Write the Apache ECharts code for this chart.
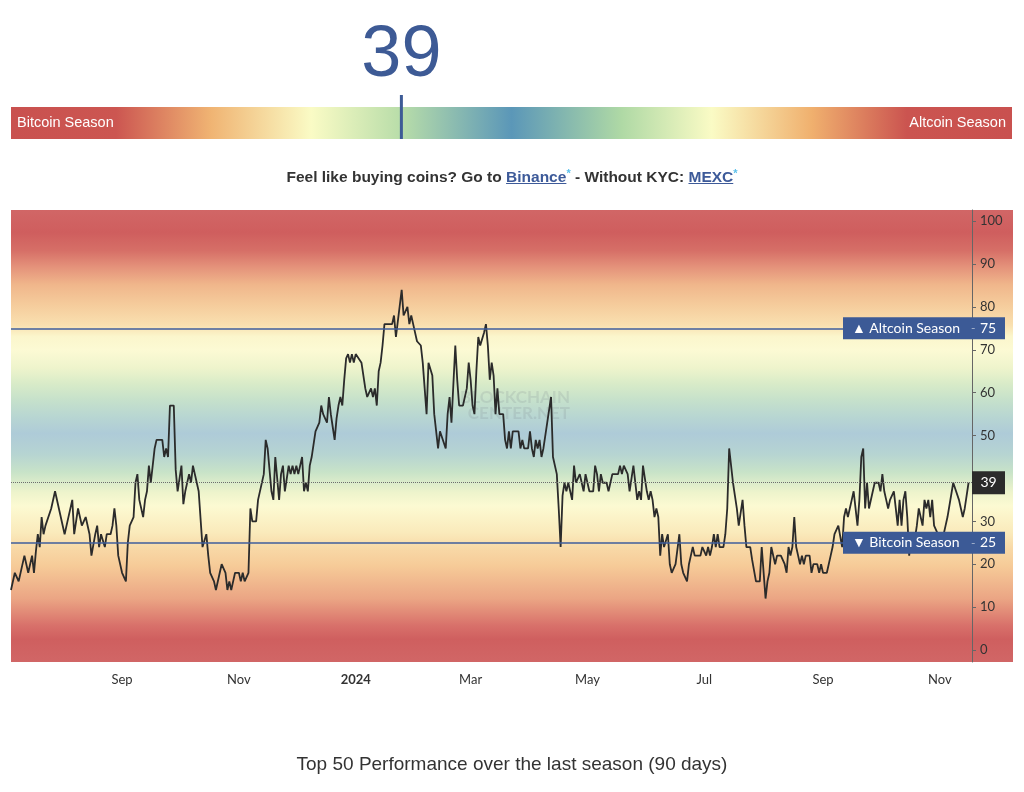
<!DOCTYPE html>
<html><head><meta charset="utf-8">
<script src="https://cdn.jsdelivr.net/npm/echarts@6/dist/echarts.min.js"></script>
<style>
html,body{margin:0;padding:0;background:#fff;}
#wrap{position:relative;width:1024px;height:792px;overflow:hidden;}
#chart{position:absolute;left:0;top:0;width:1024px;height:792px;}
#promo{position:absolute;left:0;top:167px;width:1024px;text-align:center;font:bold 15.5px "Liberation Sans",Arial,sans-serif;color:#333;line-height:20px;}
#promo a{color:#3d5a99;text-decoration:underline;}
#promo .st{color:#5bc0eb;font-size:11px;vertical-align:top;line-height:12px;}
</style></head>
<body><div id="wrap"><div id="chart"></div>
<div id="promo">Feel like buying coins? Go to <a>Binance</a><span class="st">*</span> - Without KYC: <a>MEXC</a><span class="st">*</span></div>
</div>
<script>
// ---- data ----
const data2023 = [
['2023-07-05',14],['2023-07-07',18],['2023-07-08',18],['2023-07-09',16],['2023-07-10',16],['2023-07-12',22],['2023-07-13',20],['2023-07-14',18],['2023-07-15',18],['2023-07-16',22],['2023-07-17',18],['2023-07-18',23],['2023-07-19',27],['2023-07-20',24],['2023-07-21',31],['2023-07-22',27],['2023-07-23',29],['2023-07-24',29],['2023-07-26',33],['2023-07-27',33],['2023-07-28',37],['2023-07-30',33],['2023-07-31',33],
['2023-08-02',27],['2023-08-03',29],['2023-08-04',29],['2023-08-06',35],['2023-08-07',27],['2023-08-09',33],['2023-08-10',31],['2023-08-11',29],['2023-08-13',31],['2023-08-14',31],['2023-08-15',27],['2023-08-16',22],['2023-08-17',22],['2023-08-18',27],['2023-08-19',29],['2023-08-20',24],['2023-08-21',27],['2023-08-23',24],['2023-08-24',27],['2023-08-26',27],['2023-08-27',29],['2023-08-28',33],['2023-08-29',29],['2023-08-30',22],['2023-08-31',22],
['2023-09-01',18],['2023-09-02',18],['2023-09-03',16],['2023-09-04',25],['2023-09-05',29],['2023-09-06',29],['2023-09-07',31],['2023-09-08',39],['2023-09-09',41],['2023-09-10',35],['2023-09-11',35],['2023-09-12',31],['2023-09-13',35],['2023-09-14',37],['2023-09-15',43],['2023-09-16',39],['2023-09-17',39],['2023-09-18',47],['2023-09-19',49],['2023-09-22',49],['2023-09-23',45],['2023-09-24',47],['2023-09-25',45],['2023-09-26',57],['2023-09-28',57],['2023-09-29',42],['2023-09-30',37],
['2023-10-01',37],['2023-10-02',43],['2023-10-03',34],['2023-10-04',37],['2023-10-05',37],['2023-10-06',41],['2023-10-07',39],['2023-10-08',43],['2023-10-09',43],['2023-10-10',39],['2023-10-11',37],['2023-10-13',24],['2023-10-14',24],['2023-10-15',27],['2023-10-16',22],['2023-10-17',18],['2023-10-18',18],['2023-10-19',16],['2023-10-20',14],['2023-10-22',18],['2023-10-23',20],['2023-10-24',20],['2023-10-25',18],['2023-10-26',14],['2023-10-27',16],['2023-10-28',14],['2023-10-29',16],['2023-10-30',18],['2023-10-31',18],
['2023-11-01',18],['2023-11-02',16],['2023-11-03',18],['2023-11-04',16],['2023-11-05',16],['2023-11-06',18],['2023-11-07',33],['2023-11-08',30],['2023-11-10',30],['2023-11-11',35],['2023-11-12',35],['2023-11-14',41],['2023-11-15',49],['2023-11-16',47],['2023-11-17',47],['2023-11-18',37],['2023-11-19',35],['2023-11-20',45],['2023-11-21',45],['2023-11-22',35],['2023-11-23',41],['2023-11-24',43],['2023-11-25',37],['2023-11-27',43],['2023-11-28',41],['2023-11-29',43],['2023-11-30',41],
['2023-12-01',43],['2023-12-02',41],['2023-12-03',41],['2023-12-04',45],['2023-12-05',37],['2023-12-06',39],['2023-12-07',37],['2023-12-08',43],['2023-12-09',45],['2023-12-11',51],['2023-12-12',51],['2023-12-13',53],['2023-12-14',57],['2023-12-15',55],['2023-12-16',55],['2023-12-17',53],['2023-12-18',59],['2023-12-19',55],['2023-12-20',52],['2023-12-21',49],['2023-12-22',54],['2023-12-23',57],['2023-12-24',59],['2023-12-25',57],['2023-12-26',63],['2023-12-27',68],['2023-12-28',69],['2023-12-29',67],['2023-12-30',69],['2023-12-31',67]
];
const data2024 = [
['2024-01-01',69],['2024-01-02',69],['2024-01-04',67],['2024-01-05',67],['2024-01-06',61],['2024-01-07',59],['2024-01-08',59],['2024-01-09',61],['2024-01-10',59],['2024-01-11',61],['2024-01-12',57],['2024-01-13',65],['2024-01-14',67],['2024-01-15',71],['2024-01-16',76],['2024-01-17',76],['2024-01-20',76],['2024-01-21',78],['2024-01-22',73],['2024-01-23',73],['2024-01-25',84],['2024-01-26',78],['2024-01-27',78],['2024-01-28',80],['2024-01-29',76],['2024-01-30',78],['2024-01-31',76],
['2024-02-01',76],['2024-02-02',72],['2024-02-04',71],['2024-02-05',67],['2024-02-07',55],['2024-02-08',67],['2024-02-09',67],['2024-02-10',64],['2024-02-11',55],['2024-02-13',47],['2024-02-14',51],['2024-02-15',51],['2024-02-17',47],['2024-02-18',55],['2024-02-19',59],['2024-02-20',53],['2024-02-21',53],['2024-02-22',71],['2024-02-23',63],['2024-02-24',57],['2024-02-25',57],['2024-02-26',57],['2024-02-28',61],['2024-02-29',67],
['2024-03-01',63],['2024-03-02',57],['2024-03-03',55],['2024-03-04',65],['2024-03-05',73],['2024-03-06',71],['2024-03-07',71],['2024-03-08',74],['2024-03-09',76],['2024-03-10',71],['2024-03-11',63],['2024-03-12',67],['2024-03-13',64],['2024-03-14',55],['2024-03-15',61],['2024-03-16',55],['2024-03-18',55],['2024-03-19',49],['2024-03-20',47],['2024-03-21',51],['2024-03-22',47],['2024-03-23',51],['2024-03-26',51],['2024-03-27',47],['2024-03-28',49],['2024-03-29',47],['2024-03-31',47],
['2024-04-01',51],['2024-04-02',47],['2024-04-03',45],['2024-04-04',49],['2024-04-05',47],['2024-04-06',49],['2024-04-07',45],['2024-04-08',47],['2024-04-09',47],['2024-04-10',53],['2024-04-12',59],['2024-04-13',45],['2024-04-15',41],['2024-04-16',33],['2024-04-17',24],['2024-04-18',36],['2024-04-19',39],['2024-04-20',37],['2024-04-21',39],['2024-04-22',39],['2024-04-23',35],['2024-04-24',43],['2024-04-25',39],['2024-04-26',39],['2024-04-27',41],['2024-04-28',39],['2024-04-29',37],['2024-04-30',41],
['2024-05-01',39],['2024-05-02',37],['2024-05-04',37],['2024-05-05',43],['2024-05-06',41],['2024-05-07',37],['2024-05-08',41],['2024-05-09',39],['2024-05-11',39],['2024-05-12',37],['2024-05-13',37],['2024-05-14',41],['2024-05-17',41],['2024-05-18',43],['2024-05-19',41],['2024-05-20',43],['2024-05-21',43],['2024-05-22',41],['2024-05-23',37],['2024-05-25',43],['2024-05-26',39],['2024-05-27',35],['2024-05-28',37],['2024-05-29',35],['2024-05-30',43],['2024-05-31',43],
['2024-06-01',37],['2024-06-02',35],['2024-06-03',37],['2024-06-04',35],['2024-06-05',31],['2024-06-06',33],['2024-06-07',31],['2024-06-08',22],['2024-06-09',27],['2024-06-10',24],['2024-06-11',24],['2024-06-12',27],['2024-06-13',20],['2024-06-14',18],['2024-06-15',18],['2024-06-16',20],['2024-06-17',20],['2024-06-18',27],['2024-06-19',20],['2024-06-20',18],['2024-06-21',18],['2024-06-22',16],['2024-06-23',20],['2024-06-24',22],['2024-06-25',24],['2024-06-26',22],['2024-06-29',22],['2024-06-30',24],
['2024-07-01',24],['2024-07-02',22],['2024-07-03',24],['2024-07-04',22],['2024-07-05',24],['2024-07-06',27],['2024-07-07',24],['2024-07-08',27],['2024-07-09',24],['2024-07-11',24],['2024-07-12',27],['2024-07-13',33],['2024-07-14',47],['2024-07-16',39],['2024-07-17',36],['2024-07-18',33],['2024-07-19',29],['2024-07-21',35],['2024-07-22',29],['2024-07-23',24],['2024-07-25',24],['2024-07-26',21],['2024-07-28',16],['2024-07-30',16],['2024-07-31',24],
['2024-08-02',12],['2024-08-03',16],['2024-08-04',18],['2024-08-05',24],['2024-08-06',24],['2024-08-07',20],['2024-08-08',22],['2024-08-10',22],['2024-08-12',20],['2024-08-13',18],['2024-08-14',24],['2024-08-15',22],['2024-08-16',24],['2024-08-17',31],['2024-08-18',24],['2024-08-19',22],['2024-08-20',20],['2024-08-21',22],['2024-08-22',20],['2024-08-23',22],['2024-08-25',22],['2024-08-26',18],['2024-08-27',20],['2024-08-29',20],['2024-08-30',18],['2024-08-31',20],
['2024-09-01',18],['2024-09-03',18],['2024-09-05',22],['2024-09-06',24],['2024-09-07',27],['2024-09-08',27],['2024-09-09',29],['2024-09-10',29],['2024-09-11',24],['2024-09-12',31],['2024-09-13',33],['2024-09-14',31],['2024-09-15',31],['2024-09-16',35],['2024-09-17',37],['2024-09-19',29],['2024-09-20',35],['2024-09-21',45],['2024-09-22',47],['2024-09-23',33],['2024-09-24',39],['2024-09-25',33],['2024-09-27',37],['2024-09-28',39],['2024-09-30',39],
['2024-10-01',37],['2024-10-02',41],['2024-10-03',37],['2024-10-04',35],['2024-10-05',33],['2024-10-06',35],['2024-10-08',37],['2024-10-09',33],['2024-10-10',29],['2024-10-11',35],['2024-10-12',29],['2024-10-13',35],['2024-10-14',37],['2024-10-15',31],['2024-10-16',22],['2024-10-17',26],['2024-10-19',26],['2024-10-20',29],['2024-10-21',33],['2024-10-23',29],['2024-10-24',35],['2024-10-25',33],['2024-10-26',35],['2024-10-27',31],['2024-10-28',35],['2024-10-29',29],['2024-10-30',29],['2024-10-31',27],
['2024-11-01',24],['2024-11-03',27],['2024-11-04',29],['2024-11-05',31],['2024-11-06',31],['2024-11-08',39],['2024-11-09',39],['2024-11-11',35],['2024-11-12',33],['2024-11-13',31],['2024-11-14',33],['2024-11-15',33],['2024-11-16',39]
];
const xTickDates = ['2023-09-01','2023-11-01','2024-01-01','2024-03-01','2024-05-01','2024-07-01','2024-09-01','2024-11-01'];
const monthNames = ['Jan','Feb','Mar','Apr','May','Jun','Jul','Aug','Sep','Oct','Nov','Dec'];
const yTicks = [0,10,20,30,40,50,60,70,80,90,100];
const seasonLevels = [75, 25];
const seasonTitles = ['\u25B2 Altcoin Season', '\u25BC Bitcoin Season'];
const gaugeEnds = ['Bitcoin Season', 'Altcoin Season'];
const bottomTitle = 'Top 50 Performance over the last season (90 days)';
const axisStart = '2023-07-05';
const axisSpanDays = 501.8;

// ---- build ----
const DAY = 86400000;
const ts = s => { const p = s.split('-').map(Number); return Date.UTC(p[0], p[1]-1, p[2]); };
const allData = data2023.concat(data2024);
const lineData = allData.map(d => [ts(d[0]), d[1]]);
const current = allData[allData.length-1][1];
const xMin = ts(axisStart);
const xMax = xMin + axisSpanDays * DAY;
const FONT = 'Lato, "Open Sans", sans-serif';
const SANS = '"Liberation Sans", Arial, sans-serif';

const bgGrad = new echarts.graphic.LinearGradient(0,0,0,1,[
  {offset:0,color:'#d16666'},{offset:0.05,color:'#cf5e5e'},{offset:0.09,color:'#d66f67'},
  {offset:0.125,color:'#e4917a'},{offset:0.165,color:'#f0b68b'},{offset:0.21,color:'#f5cc9c'},
  {offset:0.255,color:'#f9e0b0'},{offset:0.28,color:'#fbf6cc'},{offset:0.31,color:'#fcfad4'},
  {offset:0.35,color:'#eef4cc'},{offset:0.385,color:'#d8ebc8'},{offset:0.42,color:'#c6e1cb'},
  {offset:0.457,color:'#b8d6d2'},{offset:0.495,color:'#aecbd8'},{offset:0.54,color:'#b6d4d2'},
  {offset:0.58,color:'#c8e3c8'},{offset:0.625,color:'#eef4cc'},{offset:0.655,color:'#fcfad2'},
  {offset:0.714,color:'#faeabb'},{offset:0.75,color:'#f8d8a6'},{offset:0.787,color:'#f6cb98'},
  {offset:0.86,color:'#eba584'},{offset:0.92,color:'#d8706a'},{offset:0.95,color:'#cf5f5f'},
  {offset:1,color:'#d16666'}
]);
const gaugeGrad = new echarts.graphic.LinearGradient(0,0,1,0,[
  {offset:0,color:'#c9514f'},{offset:0.105,color:'#cc5651'},{offset:0.2,color:'#f0b473'},
  {offset:0.3,color:'#fafbc5'},{offset:0.39,color:'#b8dda9'},{offset:0.5,color:'#5b97b8'},
  {offset:0.61,color:'#afd9a5'},{offset:0.7,color:'#fafbc5'},{offset:0.8,color:'#f0b06e'},
  {offset:0.895,color:'#cb5450'},{offset:1,color:'#c9514f'}
]);

const boxRich = {
  t:{color:'#fff',fontSize:14,fontFamily:FONT,width:119,align:'left'},
  d:{color:'rgba(255,255,255,0.55)',fontSize:12,fontFamily:FONT,width:9,align:'left'},
  v:{color:'#fff',fontSize:14,fontFamily:FONT,align:'left'}
};
const seasonPoints = seasonLevels.map((lv,i) => ({
  coord:[xMax, lv], symbol:'rect', symbolSize:[162,22], symbolOffset:[-48,0],
  itemStyle:{color:'#3c5a96'},
  label:{show:true, position:'inside', formatter:'{t|'+seasonTitles[i]+'}{d|-}{v|'+lv+'}', rich:boxRich}
}));

const chart = echarts.init(document.getElementById('chart'), null, {renderer:'canvas'});
chart.setOption({
  animation:false,
  backgroundColor:'#fff',
  title:{text:bottomTitle,left:'center',top:750,textStyle:{fontSize:19,fontWeight:'normal',color:'#333',fontFamily:SANS}},
  graphic:[
    {type:'rect',z:-10,silent:true,shape:{x:11,y:210,width:1002,height:452},style:{fill:bgGrad}},
    {type:'text',z:1,silent:true,style:{x:570,y:398,text:'BLOCKCHAIN',align:'right',verticalAlign:'middle',font:'bold 17px '+FONT,fill:'rgba(110,120,130,0.16)'}},
    {type:'text',z:1,silent:true,style:{x:570,y:414,text:'CENTER.NET',align:'right',verticalAlign:'middle',font:'bold 17px '+FONT,fill:'rgba(110,120,130,0.16)'}},
    {type:'text',z:5,silent:true,style:{x:17,y:123,text:gaugeEnds[0],align:'left',verticalAlign:'middle',font:'14.5px '+SANS,fill:'#fff'}},
    {type:'text',z:5,silent:true,style:{x:1006,y:123,text:gaugeEnds[1],align:'right',verticalAlign:'middle',font:'14.5px '+SANS,fill:'#fff'}}
  ],
  grid:[
    {left:11,right:52,top:210,bottom:130},
    {left:11,right:12,top:107,height:32,show:true,backgroundColor:gaugeGrad,borderWidth:0}
  ],
  xAxis:[
    {type:'value',gridIndex:0,min:xMin,max:xMax,
     axisLine:{show:false},axisTick:{show:false},splitLine:{show:false},
     axisLabel:{customValues:xTickDates.map(ts),color:'#333',fontSize:13,fontFamily:FONT,margin:11,
       formatter:v=>{const d=new Date(v);const m=d.getUTCMonth();return m===0?'{b|'+d.getUTCFullYear()+'}':monthNames[m];},
       rich:{b:{fontWeight:'bold',fontSize:13,color:'#333',fontFamily:FONT}}}},
    {type:'value',gridIndex:1,min:0,max:100,show:false}
  ],
  yAxis:[
    {type:'value',gridIndex:0,position:'right',min:-2.8,max:102.6,
     axisLine:{show:true,lineStyle:{color:'#666',width:1}},
     axisTick:{show:true,customValues:yTicks,length:4,lineStyle:{color:'#666'}},
     axisLabel:{customValues:yTicks,color:'#333',fontSize:13,fontFamily:FONT,margin:8},
     splitLine:{show:false}},
    {type:'value',gridIndex:1,min:0,max:1,show:false}
  ],
  series:[
    {type:'line',xAxisIndex:0,yAxisIndex:0,data:lineData,showSymbol:false,z:3,
     lineStyle:{color:'#2b2b2b',width:1.8},
     markLine:{silent:true,symbol:['none','none'],label:{show:false},
       data:[
         {yAxis:seasonLevels[0],lineStyle:{color:'#3f5e9c',width:1.6,type:'solid'}},
         {yAxis:seasonLevels[1],lineStyle:{color:'#3f5e9c',width:1.6,type:'solid'}},
         {yAxis:current,lineStyle:{color:'#6e6e6e',width:1,type:'dotted'}}
       ]},
     markPoint:{silent:true,data:seasonPoints.concat([{
       coord:[xMax,current],symbol:'rect',symbolSize:[33,23],symbolOffset:[16.5,0],
       itemStyle:{color:'#2b2b2b'},
       label:{show:true,position:'inside',formatter:String(current),color:'#fff',fontSize:14,fontFamily:FONT}
     }])}
    },
    {type:'line',xAxisIndex:1,yAxisIndex:1,data:[[current,0],[current,1.375]],clip:false,showSymbol:false,silent:true,z:4,
     lineStyle:{color:'#3d5b96',width:3}},
    {type:'scatter',xAxisIndex:1,yAxisIndex:1,data:[[current,1.375]],clip:false,symbolSize:1,silent:true,
     itemStyle:{color:'rgba(0,0,0,0)',opacity:1},
     label:{show:true,position:'top',distance:2,formatter:String(current),color:'#3d5a95',opacity:1,fontSize:72,fontFamily:SANS}}
  ]
});
</script>
</body></html>
